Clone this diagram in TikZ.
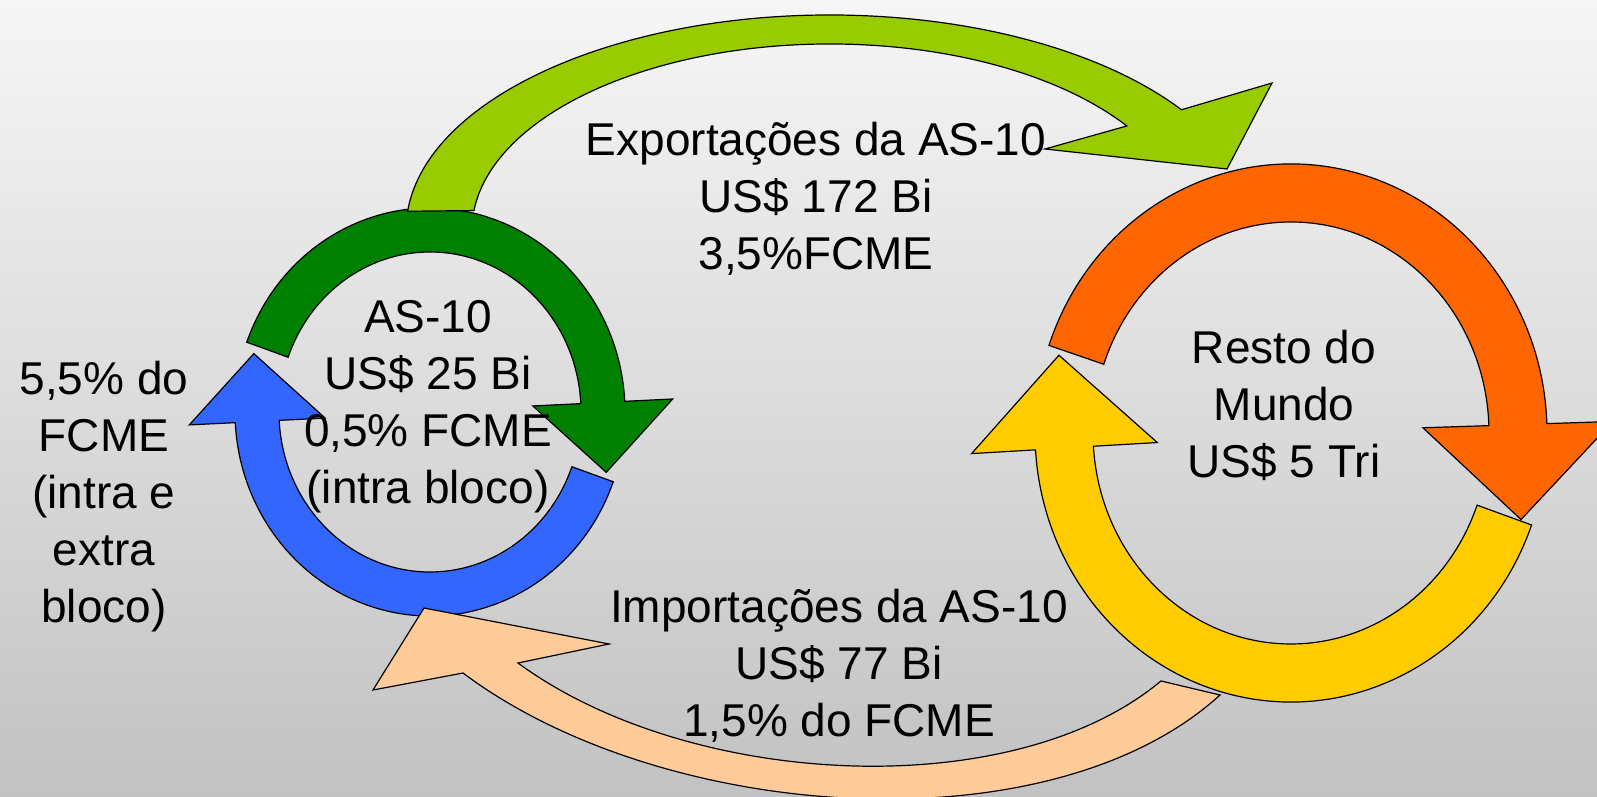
\documentclass[tikz,border=0pt]{standalone}
\usepackage{fontspec}
\setmainfont{Liberation Sans}
\usetikzlibrary{calc}

\definecolor{bgtop}{HTML}{F6F6F6}
\definecolor{bgbot}{HTML}{C2C2C2}
\definecolor{leafgreen}{HTML}{99CC00}
\definecolor{darkgreen}{HTML}{008000}
\definecolor{flowblue}{HTML}{3366FF}
\definecolor{floworange}{HTML}{FF6600}
\definecolor{flowyellow}{HTML}{FFCC00}
\definecolor{peach}{HTML}{FFCC99}

\tikzset{
  band/.style={draw=black,line width=1.2pt,line join=miter},
  lbl/.style={font=\fontsize{46}{57}\selectfont,align=center,inner sep=0pt}
}

\newcommand{\bendarrow}[8]{%
  \pgfmathsetmacro{\bnx}{#4*cos(#7)}%
  \pgfmathsetmacro{\bny}{#3*sin(#7)}%
  \pgfmathsetmacro{\bnl}{veclen(\bnx,\bny)}%
  \pgfmathsetmacro{\bnx}{\bnx/\bnl}%
  \pgfmathsetmacro{\bny}{\bny/\bnl}%
  \filldraw[band,fill=#1]
    ($(#2)+({(#3+#5)*cos(#6)},{(#4+#5)*sin(#6)})$)
    arc[start angle=#6,end angle=#7,x radius={(#3+#5)*1pt},y radius={(#4+#5)*1pt}]
    -- ($(#2)+({#3*cos(#7)+#8*(\bnx)},{#4*sin(#7)+#8*(\bny)})$)
    -- ($(#2)+({#3*cos(#7)+#8*(\bny)},{#4*sin(#7)-#8*(\bnx)})$)
    -- ($(#2)+({#3*cos(#7)-#8*(\bnx)},{#4*sin(#7)-#8*(\bny)})$)
    -- ($(#2)+({(#3-#5)*cos(#7)},{(#4-#5)*sin(#7)})$)
    arc[start angle=#7,end angle=#6,x radius={(#3-#5)*1pt},y radius={(#4-#5)*1pt}]
    -- cycle;}

\begin{document}
\begin{tikzpicture}[x=1pt,y=1pt]
  \useasboundingbox (0,0) rectangle (1597,797);
  \clip (0,0) rectangle (1597,797);
  \shade[top color=bgtop,bottom color=bgbot] (0,0) rectangle (1597,797);

  \coordinate (hubL) at (430,385);
  \coordinate (hubR) at (1291,364);
  \coordinate (hubX) at (830,567);

  \bendarrow{darkgreen}{hubL}{173}{182}{22}{160}{3}{70}
  \bendarrow{flowblue}{hubL}{173}{182}{22}{-20}{-177}{68}
  \bendarrow{floworange}{hubR}{227}{240}{29}{161}{2}{95}
  \bendarrow{flowyellow}{hubR}{227}{240}{29}{-20}{-176.4}{93}

  \filldraw[band,fill=leafgreen]
    ($(hubX)+({424*cos(175)},{215*sin(175)})$)
    arc[start angle=175,end angle=34,x radius=424pt,y radius=215pt]
    -- (1272,714) -- (1227,628) -- (1045,648)
    -- ($(hubX)+({358*cos(34)},{186*sin(34)})$)
    arc[start angle=34,end angle=174,x radius=358pt,y radius=186pt]
    -- cycle;

  \filldraw[band,fill=peach]
    (463,124) .. controls (663,-26) and (1050,-53) .. (1220,102)
    -- (1161,116) .. controls (1011,-9) and (688,9) .. (518,134)
    -- (609,153) -- (424,189) -- (373,107) -- cycle;

  \node[lbl] (exptxt) at (816,598) {Exportações da AS-10\\US\$ 172 Bi\\3,5\%FCME};
  \node[lbl] (imptxt) at (839,131) {Importações da AS-10\\US\$ 77 Bi\\1,5\% do FCME};
  \node[lbl] (blocotxt) at (428,390) {AS-10\\US\$ 25 Bi\\0,5\% FCME\\(intra bloco)};
  \node[lbl] (mundotxt) at (1284,392) {Resto do\\Mundo\\US\$ 5 Tri};
  \node[lbl] (fcmetxt) at (104,300) {5,5\% do\\FCME\\(intra e\\extra\\bloco)};
\end{tikzpicture}
\end{document}
